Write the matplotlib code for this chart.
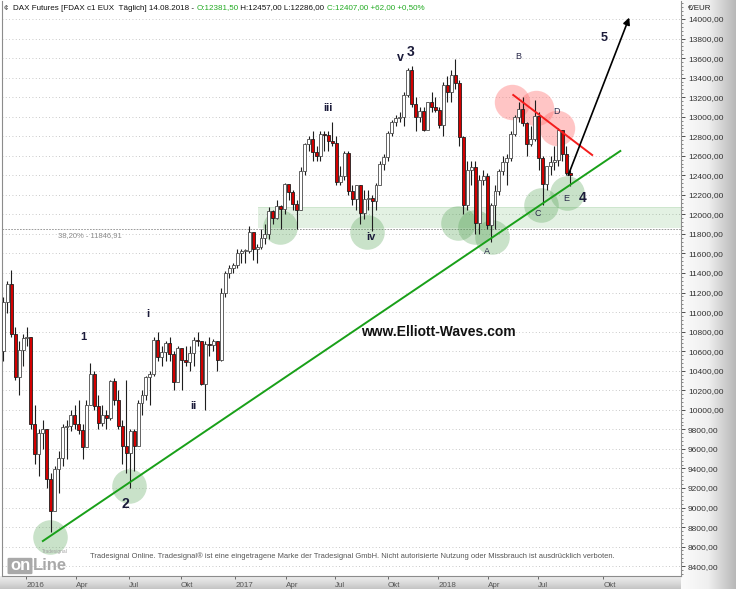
import numpy as np
import matplotlib
matplotlib.use('Agg')
from matplotlib import pyplot as plt
from matplotlib.colors import LinearSegmentedColormap
from matplotlib.patches import FancyBboxPatch

plt.rcParams['font.family'] = ['Liberation Sans', 'DejaVu Sans']

# weekly candles, week 0 = 16.11.2015 ... week 143 = 13.08.2018
first_open = 10600
high = [11150, 11320, 11430, 10850, 10700, 10780, 10850, 10750, 10050, 9800,
        9900, 9800, 9350, 9420, 9580, 9850, 9900, 10000, 10050, 10100,
        9850, 10100, 10480, 10400, 10150, 10050, 10000, 10300, 10330, 10200,
        9900, 10300, 9800, 9800, 10100, 10200, 10350, 10400, 10750, 10800,
        10650, 10700, 10750, 10600, 10650, 10600, 10650, 10650, 10750, 10800,
        10700, 10700, 10750, 10720, 10700, 11250, 11420, 11480, 11500, 11650,
        11650, 11650, 11880, 11800, 11700, 11850, 11900, 12080, 12050, 12150,
        12100, 12320, 12300, 12250, 12150, 12480, 12730, 12800, 12850, 12700,
        12850, 12850, 12850, 12950, 12800, 12500, 12650, 12650, 12300, 12300,
        12300, 12250, 12250, 12200, 12320, 12550, 12620, 12850, 12970, 13020,
        13050, 13250, 13500, 13520, 13200, 13100, 13100, 13150, 13250, 13200,
        13100, 13350, 13420, 13480, 13590, 13380, 12800, 12550, 12550, 12550,
        12400, 12450, 12420, 12120, 12300, 12460, 12600, 12620, 12850, 13020,
        13150, 13200, 12950, 12900, 13170, 13050, 12600, 12500, 12600, 12700,
        12880, 12850, 12700, 12457]
low = [10500, 10990, 10750, 10300, 10150, 10450, 10650, 9800, 9450, 9320,
       9600, 9200, 8750, 9050, 9150, 9420, 9500, 9780, 9800, 9750,
       9500, 9650, 10050, 10000, 9800, 9830, 9800, 9900, 10050, 9800,
       9450, 9350, 9200, 9370, 9630, 9950, 10100, 10050, 10350, 10500,
       10450, 10500, 10500, 10200, 10300, 10200, 10450, 10400, 10450, 10650,
       10250, 10000, 10550, 10600, 10400, 10500, 11150, 11350, 11400, 11450,
       11500, 11500, 11600, 11530, 11500, 11650, 11700, 11750, 11900, 11950,
       11850, 12000, 12150, 12050, 11850, 12050, 12400, 12650, 12550, 12550,
       12550, 12650, 12650, 12700, 12300, 12300, 12350, 12200, 12100, 12050,
       11900, 11950, 12050, 11830, 12050, 12350, 12450, 12550, 12800, 12900,
       12950, 12900, 13200, 13100, 12850, 12950, 12850, 12900, 13050, 13050,
       12880, 12800, 13150, 13150, 13280, 12700, 12000, 12050, 12300, 11800,
       11800, 12300, 11850, 11720, 11850, 12200, 12400, 12300, 12550, 12800,
       12950, 12900, 12600, 12700, 12750, 12450, 12100, 12250, 12400, 12450,
       12500, 12550, 12400, 12286]
close = [11100, 11290, 10780, 10340, 10610, 10730, 10740, 9850, 9545, 9760,
         9800, 9290, 8960, 9390, 9510, 9820, 9830, 9950, 9850, 9790,
         9620, 10050, 10370, 10040, 9870, 9950, 9920, 10290, 10100, 9830,
         9630, 9560, 9780, 9630, 10070, 10150, 10340, 10370, 10710, 10540,
         10590, 10680, 10570, 10280, 10630, 10510, 10490, 10580, 10710, 10700,
         10260, 10670, 10660, 10700, 10510, 11200, 11400, 11450, 11480, 11600,
         11630, 11630, 11820, 11650, 11670, 11760, 11800, 12030, 11960, 12090,
         12060, 12310, 12230, 12110, 12050, 12440, 12720, 12770, 12640, 12600,
         12820, 12815, 12750, 12730, 12330, 12390, 12630, 12240, 12160, 12300,
         12010, 12160, 12170, 12140, 12300, 12520, 12590, 12830, 12950, 12990,
         13000, 13220, 13480, 13130, 13000, 13060, 12860, 13150, 13100, 13070,
         12920, 13320, 13250, 13430, 13340, 12790, 12100, 12450, 12480, 11910,
         12350, 12390, 11890, 12100, 12240, 12440, 12540, 12580, 12820, 13000,
         13080, 12940, 12720, 12770, 13010, 12580, 12310, 12500, 12540, 12560,
         12860, 12620, 12420, 12407]

# time axis labels (week index of each label)
tick_weeks = [5.8, 18.4, 31.7, 44.8, 58.5, 71.3, 83.7, 97.0, 109.7, 122.3, 134.9, 151.3]
tick_labels = ['2016', 'Apr', 'Jul', 'Okt', '2017', 'Apr', 'Jul', 'Okt', '2018', 'Apr', 'Jul', 'Okt']

# Elliott annotations (week index, price)
trend_green = ([10.0, 155.6], [8657, 12649])
trend_red = ([128.6, 148.5], [13222, 12608])
arrow_5 = ((142.2, 12373), (158.1, 14041))
green_circles = [(11.8, 8700), (31.7, 9220), (69.8, 11870), (91.8, 11820), (114.7, 11910),
                 (119.0, 11870), (123.3, 11770), (135.6, 12100), (142.2, 12220)]
red_circles = [(128.3, 13150), (134.4, 13090), (139.7, 12885)]
band_start, band_low, band_high = 64.3, 11860, 12075
fib_level = 11846.91
wave_labels = [('1', 20.1, 10745, 8), ('i', 36.5, 10980, 8), ('2', 30.7, 9036, 10),
               ('ii', 47.9, 10040, 8), ('iii', 81.9, 13089, 8), ('iv', 92.8, 11769, 8),
               ('v', 100.1, 13600, 9), ('3', 102.8, 13662, 10), ('4', 146.0, 12168, 10),
               ('5', 151.5, 13806, 9)]
abc_labels = [('A', 122.0, 11625), ('B', 129.8, 13611), ('C', 134.9, 12014),
              ('D', 139.4, 13048), ('E', 141.9, 12158)]

W, H = 736, 589
fig = plt.figure(figsize=(W / 100, H / 100), dpi=100)
fig.patch.set_facecolor('white')

# grey gradient strips (right price scale, bottom time scale)
cm_r = LinearSegmentedColormap.from_list('r', ['#fbfbfb', '#efefef', '#b8b8b8'])
rax = fig.add_axes([681 / W, 0, 55 / W, 1])
rax.imshow(np.tile(np.linspace(0, 1, 200), (2, 1)), aspect='auto', cmap=cm_r)
rax.axis('off')
cm_b = LinearSegmentedColormap.from_list('b', ['#eeeeee', '#dcdcdc', '#c4c4c4'])
bax = fig.add_axes([0, 0, 681 / W, 13 / H])
bax.imshow(np.tile(np.linspace(0, 1, 50), (2, 1)).T, aspect='auto', cmap=cm_b)
bax.axis('off')

ax = fig.add_axes([2 / W, 13 / H, 679 / W, 575 / H])
ax.set_xlim(-0.3, 170.9)
ax.set_ylim(8299, 14184)

# grid
yt = np.arange(8400, 14001, 200)
for v in yt:
    ax.axhline(v, color='#b8b8b8', lw=0.6, ls=(0, (1, 3)), zorder=0)

# support band and fib level
ax.fill_between([band_start, 171], band_low, band_high, color='#3f9f3f', alpha=0.14, lw=0, zorder=1)
ax.plot([band_start, 171], [band_high, band_high], color='#3f9f3f', alpha=0.15, lw=0.6)
ax.axhline(fib_level, color='#8a8a8a', lw=0.6, ls=(0, (2, 1.5)), zorder=1)
ax.annotate('38,20% - 11846,91', xy=(13.8, fib_level), xytext=(0, -2), textcoords='offset points',
            fontsize=5.5, color='#8a8a8a', va='top')

# circles
ax.scatter([p[0] for p in green_circles], [p[1] for p in green_circles], s=620,
           color='#4f9f4f', alpha=0.3, lw=0, zorder=2)
ax.scatter([p[0] for p in red_circles], [p[1] for p in red_circles], s=650,
           color='#ff7070', alpha=0.4, lw=0, zorder=2)

# candles
idx = np.arange(len(close))
c = np.array(close, float)
o = np.array([first_open] + close[:-1], float)
up = c >= o
bot = np.minimum(o, c)
hgt = np.maximum(np.abs(c - o), 10)
ax.vlines(idx, low, high, color='#1e1e1e', lw=0.8, zorder=3)
ax.bar(idx[up], hgt[up], bottom=bot[up], width=0.75, color='white', edgecolor='#4a4a4a', lw=0.6, zorder=4)
ax.bar(idx[~up], hgt[~up], bottom=bot[~up], width=0.75, color='#d30000', edgecolor='#1e1e1e', lw=0.6, zorder=4)

# trend lines and projection arrow
ax.plot(*trend_green, color='#19a019', lw=1.4, zorder=5)
ax.plot(*trend_red, color='#f41c1c', lw=1.4, zorder=5)
ax.annotate('', xy=arrow_5[1], xytext=arrow_5[0],
            arrowprops=dict(arrowstyle='-|>', color='black', lw=1.2, mutation_scale=10), zorder=6)

for s, x, y, fs in wave_labels:
    ax.text(x, y, s, fontsize=fs, fontweight='bold', color='#1b1b3a', ha='center', va='center', zorder=6)
for s, x, y in abc_labels:
    ax.text(x, y, s, fontsize=6.5, color='#2a2a4a', ha='center', va='center', zorder=6)

ax.text(0.642, 0.425, 'www.Elliott-Waves.com', transform=ax.transAxes, fontsize=10,
        fontweight='bold', color='#111111', ha='center', va='center')

# axes styling
ax.yaxis.tick_right()
ax.set_yticks(yt)
ax.set_yticklabels([f'{v:.2f}'.replace('.', ',') for v in yt], fontsize=6, color='#222222')
ax.set_yticks(np.arange(8320, 14184, 40), minor=True)
ax.tick_params(axis='y', which='major', direction='out', length=3, width=0.6, pad=2, colors='#333333')
ax.tick_params(axis='y', which='minor', direction='out', length=1.5, width=0.5, colors='#555555')
ax.set_xticks(tick_weeks)
ax.set_xticklabels(tick_labels, fontsize=5.8, color='#222222', ha='left')
ax.tick_params(axis='x', direction='out', length=2.5, width=0.6, pad=1.5, colors='#555555')
for sp in ['left', 'right', 'bottom']:
    ax.spines[sp].set_color('#8c8c8c')
    ax.spines[sp].set_linewidth(0.8)
ax.spines['top'].set_visible(False)

# header line with coloured quote parts
head = [('DAX Futures [FDAX c1 EUX  Täglich] 14.08.2018 - ', '#111111'),
        ('O:12381,50', '#22aa22'), (' H:12457,00 L:12286,00 ', '#111111'),
        ('C:12407,00 +62,00 +0,50%', '#22aa22')]
prev = fig.text(13 / W, 1 - 8 / H, head[0][0], fontsize=5.8, color=head[0][1], va='center')
for s, col in head[1:]:
    prev = ax.annotate(s, xy=(1, 0.5), xycoords=prev, va='center', ha='left',
                       fontsize=5.8, color=col, annotation_clip=False)
fig.text(4 / W, 1 - 8 / H, '¢', fontsize=6, color='#333333', va='center')
fig.text(688 / W, 1 - 8 / H, '€/EUR', fontsize=5.8, color='#222222', va='center')

# footer
fig.text(90 / W, 1 - 556 / H, 'Tradesignal Online. Tradesignal® ist eine eingetragene Marke der '
         'Tradesignal GmbH. Nicht autorisierte Nutzung oder Missbrauch ist ausdrücklich verboten.',
         fontsize=5.4, color='#555555', va='center')
fig.patches.append(FancyBboxPatch((9 / W, 1 - 573 / H), 22 / W, 14 / H,
                                  boxstyle='round,pad=0.002', transform=fig.transFigure,
                                  facecolor='#a9a9a9', edgecolor='none'))
fig.text(10 / W, 1 - 566 / H, 'on', fontsize=12, fontweight='bold', color='white', va='center')
fig.text(33 / W, 1 - 566 / H, 'Line', fontsize=12, fontweight='bold', color='#a9a9a9', va='center')
fig.text(42 / W, 1 - 552 / H, 'Tradesignal', fontsize=3.5, color='#a0a0a0', va='center')

fig.savefig('out.png', dpi=100)
